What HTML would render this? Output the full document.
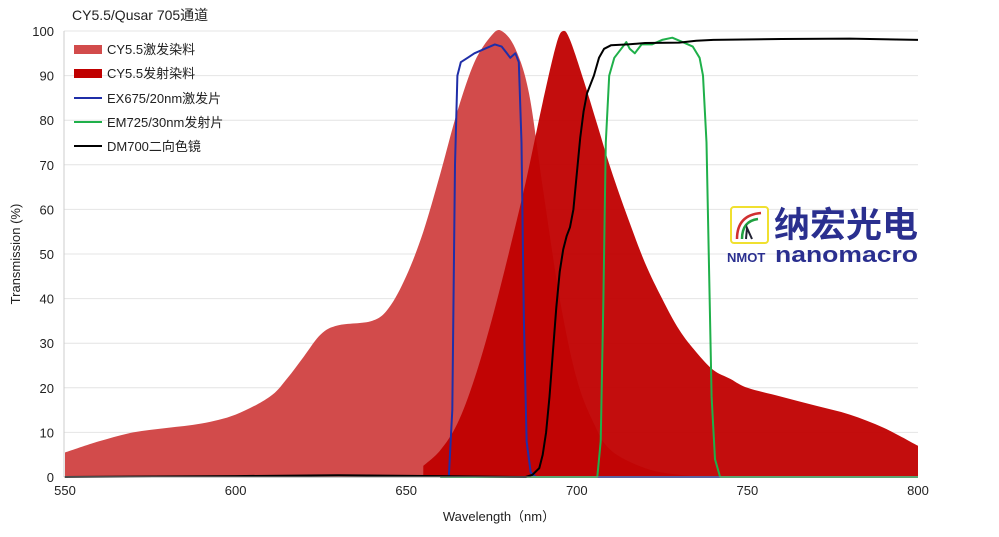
<!DOCTYPE html>
<html><head><meta charset="utf-8"><style>
body{margin:0;background:#fff;}
text{font-family:"Liberation Sans","Noto Sans CJK SC",sans-serif;}
</style></head><body>
<svg id="s" width="999" height="532" xmlns="http://www.w3.org/2000/svg">
<rect width="999" height="532" fill="#fff"/>
<g id="grid" stroke="#e4e4e4" stroke-width="1"></g>
<g id="series"></g>
<line x1="64" y1="31" x2="64" y2="477" stroke="#ccc"/>
<line x1="64" y1="477" x2="918" y2="477" stroke="#999"/>
<g id="ticks" font-size="13" fill="#222"></g>
<text x="72" y="20" font-size="14" fill="#222">CY5.5/Qusar 705通道</text>
<text x="499" y="521" font-size="13" text-anchor="middle" fill="#222">Wavelength（nm）</text>
<text transform="translate(20,254) rotate(-90)" font-size="13" text-anchor="middle" fill="#222">Transmission (%)</text>
<g font-size="13" fill="#222">
<rect x="74" y="45" width="28" height="9" fill="#d24b4b"/><text x="107" y="54">CY5.5激发染料</text>
<rect x="74" y="69" width="28" height="9" fill="#c00000"/><text x="107" y="78">CY5.5发射染料</text>
<line x1="74" y1="98" x2="102" y2="98" stroke="#1f2ea8" stroke-width="2"/><text x="107" y="103">EX675/20nm激发片</text>
<line x1="74" y1="122" x2="102" y2="122" stroke="#1fb04a" stroke-width="2"/><text x="107" y="127">EM725/30nm发射片</text>
<line x1="74" y1="146" x2="102" y2="146" stroke="#000" stroke-width="2"/><text x="107" y="151">DM700二向色镜</text>
</g>
<g>
<rect x="731" y="207" width="37" height="36" fill="#fff" stroke="#f0e030" stroke-width="2" rx="3"/>
<path d="M737 239 Q737 215 761 213" stroke="#d03030" stroke-width="2.5" fill="none"/>
<path d="M742 239 Q742 221 758 219" stroke="#20a040" stroke-width="2.5" fill="none"/>
<path d="M746 239 L747 228 L752 239" stroke="#223" stroke-width="2" fill="none"/>
<text x="774" y="237" font-size="35" font-weight="bold" fill="#2a2f8f" textLength="144" lengthAdjust="spacingAndGlyphs">纳宏光电</text>
<text x="727" y="262" font-size="13" font-weight="bold" fill="#2a2f8f">NMOT</text>
<text x="775" y="262" font-size="22" font-weight="bold" fill="#2a2f8f" textLength="143" lengthAdjust="spacingAndGlyphs">nanomacro</text>
</g>
</svg>
<script>
const X=n=>65+(n-550)*3.412, Y=p=>477-p*4.46;
const g=document.getElementById('grid'),t=document.getElementById('ticks'),se=document.getElementById('series');
const NS="http://www.w3.org/2000/svg";
function el(p,tag,a,txt){const e=document.createElementNS(NS,tag);for(const k in a)e.setAttribute(k,a[k]);if(txt!=null)e.textContent=txt;p.appendChild(e);return e;}
for(let v=0;v<=100;v+=10){const y=Y(v);if(v>0)el(g,'line',{x1:64,x2:918,y1:y,y2:y});el(t,'text',{x:54,y:y+5,'text-anchor':'end'},v);}
for(let n=550;n<=800;n+=50){el(t,'text',{x:X(n),y:495,'text-anchor':'middle'},n);}
function smooth(a){const P=a.map(([n,p])=>[X(n),Y(p)]);let d='M'+P[0][0].toFixed(1)+','+P[0][1].toFixed(1);
for(let i=0;i<P.length-1;i++){const p0=P[Math.max(0,i-1)],p1=P[i],p2=P[i+1],p3=P[Math.min(P.length-1,i+2)];
const c1=[p1[0]+(p2[0]-p0[0])/6,p1[1]+(p2[1]-p0[1])/6],c2=[p2[0]-(p3[0]-p1[0])/6,p2[1]-(p3[1]-p1[1])/6];
d+=' C'+c1.map(v=>v.toFixed(1))+' '+c2.map(v=>v.toFixed(1))+' '+p2.map(v=>v.toFixed(1));}return d;}
function pts(a){return a.map(([n,p])=>X(n).toFixed(1)+','+Y(p).toFixed(1)).join(' ');}
const ex=[[550,5.5],[560,8],[570,10],[580,11],[590,12],[600,14],[610,18],[615,22],[620,27],[625,32],[630,34],[640,35],[645,38],[650,45],[655,55],[660,68],[665,82],[670,93],[675,99],[678,100],[682,96],[686,86],[690,65],[695,40],[700,22],[705,12],[710,6],[720,2],[730,0.5],[740,0]];
const em=[[655,2.5],[660,6],[665,12],[670,22],[675,35],[680,50],[685,66],[690,84],[694,97],[696,100],[698,98],[702,89],[706,79],[710,69],[715,58],[720,48],[725,40],[730,33],[735,28],[740,24],[745,22],[750,20],[760,18],[770,16],[780,14],[790,11],[800,7]];
el(se,'path',{d:smooth(ex)+' L'+X(740)+','+Y(0)+' L'+X(550)+','+Y(0)+'Z',fill:'#d24b4b'});
el(se,'path',{d:smooth(em)+' L'+X(800)+','+Y(0)+' L'+X(655)+','+Y(0)+'Z',fill:'#c00000','fill-opacity':'0.95'});
const bl=[[660,0],[662.5,0],[663.5,15],[664.3,70],[665,90],[666,93],[668,94],[670,95],[673,96],[676,97],[678,96.5],[679.5,95],[680.5,94],[682,95],[683,93],[683.8,75],[684.5,35],[685.3,8],[686.5,1],[688,0],[800,0]];
const gr=[[660,0],[706,0],[707,8],[707.8,40],[708.5,75],[709.5,90],[711,94],[713,96],[714.5,97.5],[715.5,96],[717,95],[719,97],[722,97],[725,98],[728,98.5],[731,97.5],[734,96.5],[736,94],[737,90],[738,75],[738.8,45],[739.5,18],[740.5,4],[742,0],[800,0]];
const bk=[[550,0],[600,0.2],[630,0.4],[660,0.2],[685,0],[687,0.5],[689,2],[690,5],[691,10],[692,18],[693,28],[694,38],[695,46],[696,51],[697,54],[698,56],[699,60],[700,68],[701,76],[702,82],[703,86],[705,90],[706.5,94],[708,96],[710,96.8],[715,97],[720,97.3],[730,97.4],[735,97.8],[740,98],[760,98.2],[780,98.3],[800,98]];
el(se,'polyline',{points:pts(bl),fill:'none',stroke:'#1f2ea8','stroke-width':2,'stroke-linejoin':'round'});
el(se,'polyline',{points:pts(gr),fill:'none',stroke:'#1fb04a','stroke-width':2,'stroke-linejoin':'round'});
el(se,'polyline',{points:pts(bk),fill:'none',stroke:'#000','stroke-width':2,'stroke-linejoin':'round'});
</script>
</body></html>
